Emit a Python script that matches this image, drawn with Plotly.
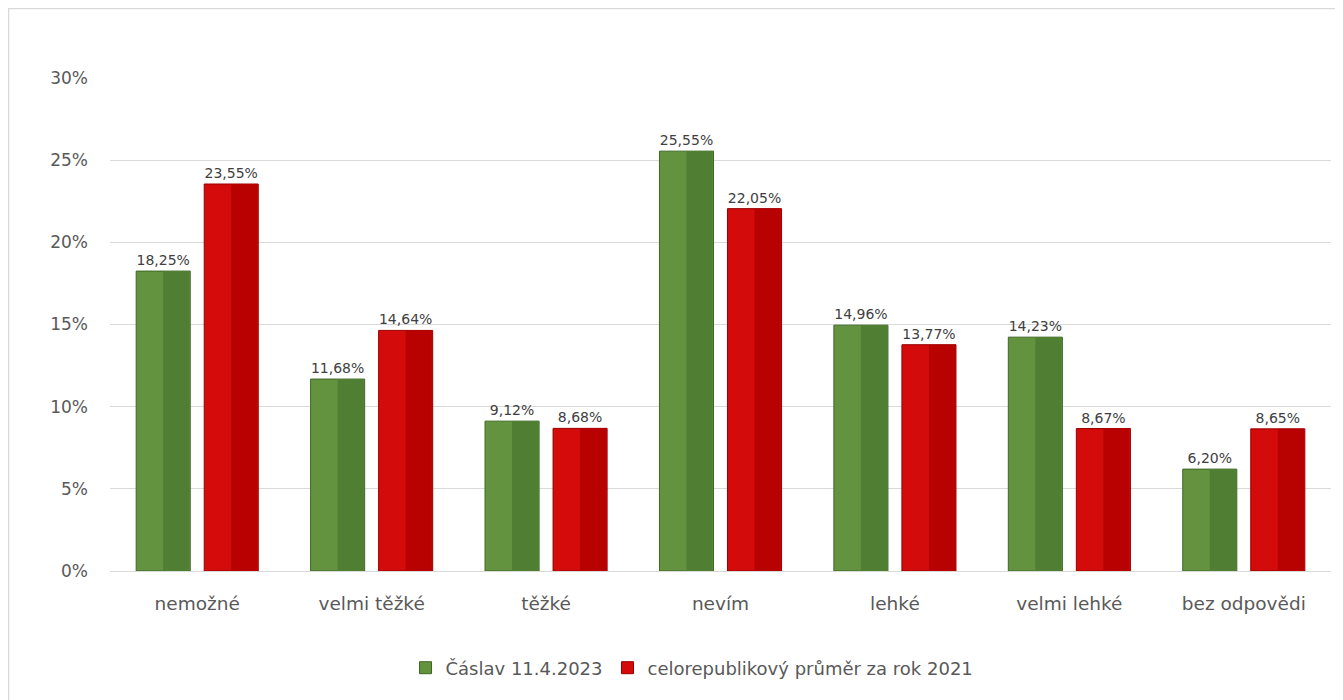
import plotly.graph_objects as go

categories = ["nemožné", "velmi těžké", "těžké", "nevím", "lehké", "velmi lehké", "bez odpovědi"]
caslav = [18.25, 11.68, 9.12, 25.55, 14.96, 14.23, 6.20]
republika = [23.55, 14.64, 8.68, 22.05, 13.77, 8.67, 8.65]
series_names = ["Čáslav 11.4.2023", "celorepublikový průměr za rok 2021"]
y_ticks = [0, 5, 10, 15, 20, 25, 30]
y_tick_labels = ["0%", "5%", "10%", "15%", "20%", "25%", "30%"]

def fmt(v):
    return f"{v:.2f}".replace(".", ",") + "%"

FONT = "DejaVu Sans"
OFF = 8  # page body margin
W, H = 1343, 700
L, R, T, B = 110 - OFF, 20, 78 - OFF, 137
pw, ph = W - L - R, H - T - B

def px_x(p):  # p: absolute screen px
    return (p - OFF - L) / pw

def px_y(p):
    return (H - B - (p - OFF)) / ph

fig = go.Figure()

fig.add_trace(go.Bar(
    x=categories, y=caslav, name=series_names[0],
    width=0.31, offset=-0.35,
    marker=dict(color="#63933f", line=dict(color="#3e6826", width=1)),
    text=[fmt(v) for v in caslav], textposition="outside",
    textfont=dict(family=FONT, size=14, color="#404040"),
    cliponaxis=False,
))
fig.add_trace(go.Bar(
    x=categories, y=caslav, showlegend=False, hoverinfo="skip",
    width=0.15, offset=-0.195,
    marker=dict(color="#507e32", line=dict(width=0)),
))
fig.add_trace(go.Bar(
    x=categories, y=republika, name=series_names[1],
    width=0.31, offset=0.04,
    marker=dict(color="#d40b0b", line=dict(color="#9a0000", width=1)),
    text=[fmt(v) for v in republika], textposition="outside",
    textfont=dict(family=FONT, size=14, color="#404040"),
    cliponaxis=False,
))
fig.add_trace(go.Bar(
    x=categories, y=republika, showlegend=False, hoverinfo="skip",
    width=0.15, offset=0.195,
    marker=dict(color="#b80202", line=dict(width=0)),
))

fig.update_layout(
    width=W, height=H,
    barmode="overlay",
    paper_bgcolor="white", plot_bgcolor="white",
    margin=dict(l=L, r=R, t=T, b=B, pad=0),
    font=dict(family=FONT, color="#595959"),
    showlegend=True,
    legend=dict(
        orientation="h", x=px_x(692), xanchor="center",
        y=px_y(668), yanchor="middle",
        font=dict(family=FONT, size=18, color="#595959"),
        traceorder="normal",
    ),
    xaxis=dict(
        tickfont=dict(family=FONT, size=18.5, color="#595959"),
        showgrid=False, showline=True, linecolor="#d9d9d9", linewidth=1,
        ticks="", ticklabelstandoff=16,
    ),
    yaxis=dict(
        range=[0, 30], tickvals=y_ticks, ticktext=y_tick_labels,
        tickfont=dict(family=FONT, size=17, color="#595959"),
        showgrid=True, gridcolor="#d9d9d9", gridwidth=1,
        zeroline=False, showline=False, ticks="",
        ticklabelstandoff=21,
    ),
    shapes=[dict(
        type="rect", xref="paper", yref="paper",
        x0=px_x(8.5), x1=px_x(W + 30), y0=px_y(8.5), y1=px_y(H + 30),
        line=dict(color="#d9d9d9", width=1.5), fillcolor="rgba(0,0,0,0)",
        layer="below",
    )],
)

fig.write_html("out.html")
